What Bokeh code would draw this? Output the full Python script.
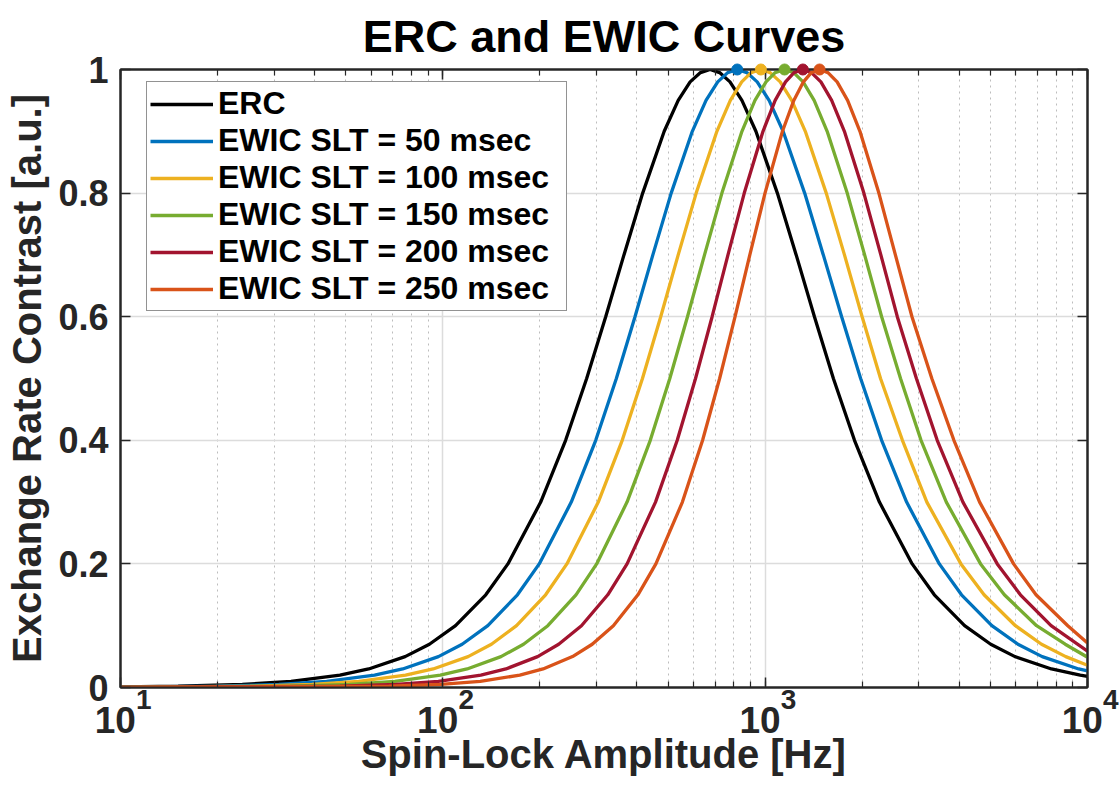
from bokeh.plotting import figure
from bokeh.models import (LogAxis, LinearAxis, FixedTicker, Legend, LegendItem, LogTicker)
from bokeh.embed import file_html
from bokeh.resources import INLINE

# ---------------- data ----------------
erc_hz = [10, 15.09, 23.88, 33.81, 47.94, 58.87, 76.38, 90.85, 109.5, 135.9, 159.2, 201.2,
          240.4, 279.4, 320.1, 364.7, 416.9, 486.2, 537.3, 585.1, 630.0, 674.5, 722.2, 777.7,
          847.0, 935.9, 1091, 1248, 1422, 1628, 1893, 2262, 2858, 3348, 4156, 5009, 5957,
          7731, 9491, 10000]
erc_val = [0.0009, 0.002, 0.005, 0.01, 0.02, 0.03, 0.05, 0.07, 0.1, 0.15, 0.2, 0.3, 0.4, 0.5,
           0.6, 0.7, 0.8, 0.9, 0.95, 0.98, 0.995, 1.0, 0.995, 0.98, 0.95, 0.9, 0.8, 0.7, 0.6,
           0.5, 0.4, 0.3, 0.2, 0.15, 0.1, 0.07, 0.05, 0.03, 0.02, 0.018]

slt50_hz = [10, 19.78, 30.99, 43.61, 61.40, 75.06, 96.89, 114.8, 137.9, 170.4, 199.1, 250.3,
            298.1, 345.4, 394.6, 448.3, 511.0, 594.3, 655.4, 712.5, 765.0, 819.2, 877.2,
            944.6, 1028.5, 1136.6, 1326, 1515, 1727, 1978, 2298, 2747, 3470, 4065, 5049,
            6083, 7235, 9389, 10000]
slt50_val = [0.0005, 0.002, 0.005, 0.01, 0.02, 0.03, 0.05, 0.07, 0.1, 0.15, 0.2, 0.3, 0.4, 0.5,
             0.6, 0.7, 0.8, 0.9, 0.95, 0.98, 0.995, 1.0, 0.995, 0.98, 0.95, 0.9, 0.8, 0.7, 0.6,
             0.5, 0.4, 0.3, 0.2, 0.15, 0.1, 0.07, 0.05, 0.03, 0.027]

slt100_hz = [10, 25.26, 39.24, 54.81, 76.62, 93.30, 119.8, 141.5, 169.3, 208.4, 242.6, 303.6,
             360.2, 416.2, 474.2, 537.3, 611.0, 708.4, 779.7, 845.8, 904.3, 969.9, 1036.2,
             1113.5, 1209, 1332, 1547, 1762, 1999, 2280, 2666, 3174, 4049, 4776, 5976, 7201,
             8561, 10000]
slt100_val = [0.0003, 0.002, 0.005, 0.01, 0.02, 0.03, 0.05, 0.07, 0.1, 0.15, 0.2, 0.3, 0.4, 0.5,
              0.6, 0.7, 0.8, 0.9, 0.95, 0.98, 0.995, 1.0, 0.995, 0.98, 0.95, 0.9, 0.8, 0.7,
              0.6, 0.5, 0.4, 0.3, 0.2, 0.15, 0.1, 0.07, 0.05, 0.036]

slt150_hz = [10, 33.53, 51.37, 71.01, 98.24, 118.9, 151.5, 178.0, 211.7, 258.9, 300.1, 372.8,
             440.1, 506.0, 574.1, 648.4, 734.2, 847.2, 929.6, 1006.2, 1073.5, 1148.7, 1225.6,
             1311.4, 1419, 1557, 1797, 2035, 2298, 2630, 3045, 3648, 4659, 5521, 6950, 8527,
             10000]
slt150_val = [0.0001, 0.002, 0.005, 0.01, 0.02, 0.03, 0.05, 0.07, 0.1, 0.15, 0.2, 0.3, 0.4, 0.5,
              0.6, 0.7, 0.8, 0.9, 0.95, 0.98, 0.995, 1.0, 0.995, 0.98, 0.95, 0.9, 0.8, 0.7,
              0.6, 0.5, 0.4, 0.3, 0.2, 0.15, 0.1, 0.07, 0.049]

slt200_hz = [10, 48.0, 71.55, 96.85, 131.2, 156.9, 196.8, 228.8, 269.2, 324.9, 372.9, 456.9,
             533.6, 608.1, 684.5, 766.7, 861.3, 984.7, 1074, 1156.5, 1229.0, 1309, 1391.5,
             1489, 1608, 1761, 2024, 2285, 2570, 2946, 3418, 4107, 5249, 6192, 7709, 10000]
slt200_val = [0.0, 0.002, 0.005, 0.01, 0.02, 0.03, 0.05, 0.07, 0.1, 0.15, 0.2, 0.3, 0.4, 0.5,
              0.6, 0.7, 0.8, 0.9, 0.95, 0.98, 0.995, 1.0, 0.995, 0.98, 0.95, 0.9, 0.8, 0.7,
              0.6, 0.5, 0.4, 0.3, 0.2, 0.15, 0.1, 0.059]

slt250_hz = [10, 67.95, 98.5, 130.6, 173.3, 204.6, 252.6, 290.7, 338.1, 403.0, 458.1, 553.6,
             639.6, 722.3, 806.5, 896.2, 998.9, 1131.5, 1227, 1314.5, 1390.5, 1475, 1566.0,
             1672, 1802, 1968, 2253, 2535, 2854, 3289, 3851, 4627, 5898, 6922, 8686, 10000]
slt250_val = [0.0, 0.002, 0.005, 0.01, 0.02, 0.03, 0.05, 0.07, 0.1, 0.15, 0.2, 0.3, 0.4, 0.5,
              0.6, 0.7, 0.8, 0.9, 0.95, 0.98, 0.995, 1.0, 0.995, 0.98, 0.95, 0.9, 0.8, 0.7,
              0.6, 0.5, 0.4, 0.3, 0.2, 0.15, 0.1, 0.072]

series_labels = ["ERC", "EWIC SLT = 50 msec", "EWIC SLT = 100 msec", "EWIC SLT = 150 msec",
                 "EWIC SLT = 200 msec", "EWIC SLT = 250 msec"]
series_colors = ["#000000", "#0072BD", "#EDB120", "#77AC30", "#A2142F", "#D95319"]

x_tick_values = [10, 100, 1000, 10000]
x_tick_exponents = ["1", "2", "3", "4"]
y_tick_values = [0, 0.2, 0.4, 0.6, 0.8, 1]
y_tick_labels = ["0", "0.2", "0.4", "0.6", "0.8", "1"]

FONT = "Liberation Sans"
AX = "#262626"
NB = "\u00a0"

p = figure(width=1119, height=791, x_axis_type="log", x_range=(10, 10000), y_range=(0, 1),
           output_backend="svg", toolbar_location=None,
           min_border_left=120, min_border_right=32, min_border_top=69, min_border_bottom=104)

p.title.text = "ERC and EWIC Curves"
p.title.text_font = FONT
p.title.text_font_size = "45px"
p.title.text_font_style = "bold"
p.title.text_color = "#000000"
p.title.align = "center"
p.title.standoff = 16

p.outline_line_color = AX
p.outline_line_width = 2
p.background_fill_color = "white"
p.border_fill_color = "white"

# grids
p.xgrid.grid_line_color = "#dcdcdc"
p.xgrid.grid_line_width = 1.5
p.xgrid.minor_grid_line_color = "#bdbdbd"
p.xgrid.minor_grid_line_dash = "2 4"
p.xgrid.minor_grid_line_width = 1
p.ygrid.ticker = FixedTicker(ticks=y_tick_values)
p.ygrid.grid_line_color = "#dcdcdc"
p.ygrid.grid_line_width = 1.5

# bottom axis (closest to the frame): carries ticks and the exponents of 10^n
xa = p.xaxis[0]
xa.ticker = LogTicker(num_minor_ticks=10)
xa.major_label_overrides = {v: NB * 6 + e for v, e in zip(x_tick_values, x_tick_exponents)}
xa.major_label_text_font = FONT
xa.major_label_text_font_size = "28px"
xa.major_label_text_font_style = "bold"
xa.major_label_text_color = AX
xa.major_label_standoff = -4

# second bottom axis: the "10" bases and the axis title
xb = LogAxis(ticker=LogTicker(num_minor_ticks=10))
xb.major_label_overrides = {v: "10" + NB for v in x_tick_values}
xb.major_label_text_font = FONT
xb.major_label_text_font_size = "37px"
xb.major_label_text_font_style = "bold"
xb.major_label_text_color = AX
xb.major_label_standoff = -24
xb.axis_line_color = None
xb.major_tick_line_color = None
xb.minor_tick_line_color = None
xb.axis_label = "Spin-Lock Amplitude [Hz]"
xb.axis_label_text_font = FONT
xb.axis_label_text_font_size = "40px"
xb.axis_label_text_font_style = "bold"
xb.axis_label_text_color = AX
xb.axis_label_standoff = -12
p.add_layout(xb, "below")

# left axis
ya = p.yaxis[0]
ya.ticker = FixedTicker(ticks=y_tick_values)
ya.major_label_overrides = dict(zip(y_tick_values, y_tick_labels))
ya.major_label_text_font = FONT
ya.major_label_text_font_size = "36px"
ya.major_label_text_font_style = "bold"
ya.major_label_text_color = AX
ya.major_label_standoff = 12
ya.axis_label = "Exchange Rate Contrast [a.u.]"
ya.axis_label_text_font = FONT
ya.axis_label_text_font_size = "40px"
ya.axis_label_text_font_style = "bold"
ya.axis_label_text_color = AX
ya.axis_label_standoff = 6

top = LogAxis(ticker=LogTicker(num_minor_ticks=10), major_label_text_font_size="1px",
              major_label_text_color=None, major_label_standoff=0)
right = LinearAxis(ticker=FixedTicker(ticks=y_tick_values), major_label_text_font_size="1px",
                   major_label_text_color=None, major_label_standoff=0)
p.add_layout(top, "above")
p.add_layout(right, "right")

for ax in [xa, ya, top, right]:
    ax.axis_line_color = AX
    ax.axis_line_width = 2
    ax.major_tick_line_color = AX
    ax.major_tick_line_width = 1.5
    ax.major_tick_in = 10
    ax.major_tick_out = 0
    ax.minor_tick_line_color = AX
    ax.minor_tick_line_width = 1.2
    ax.minor_tick_in = 6
    ax.minor_tick_out = 0
for ax in [ya, right]:
    ax.minor_tick_line_color = None

# curves
xs = [erc_hz, slt50_hz, slt100_hz, slt150_hz, slt200_hz, slt250_hz]
ys = [erc_val, slt50_val, slt100_val, slt150_val, slt200_val, slt250_val]
items = []
for x, y, c, lab in zip(xs, ys, series_colors, series_labels):
    r = p.line(x, y, line_width=3.3, line_color=c)
    items.append(LegendItem(label=lab, renderers=[r]))

# peak markers for the EWIC curves
peak_hz = [x[y.index(max(y))] for x, y in zip(xs[1:], ys[1:])]
peak_val = [max(y) for y in ys[1:]]
p.scatter(peak_hz, peak_val, size=11, color=series_colors[1:], level="overlay")

legend = Legend(items=items, location=(26, 376), margin=0)
legend.label_text_font = FONT
legend.label_text_font_size = "32px"
legend.label_text_font_style = "bold"
legend.label_text_color = "#000000"
legend.glyph_width = 63
legend.glyph_height = 30
legend.label_height = 30
legend.label_width = 345
legend.spacing = 0
legend.padding = 3
legend.label_standoff = 5
legend.border_line_color = AX
legend.border_line_width = 1.5
legend.background_fill_alpha = 1
p.add_layout(legend)

open("out.html", "w").write(file_html(p, INLINE))
